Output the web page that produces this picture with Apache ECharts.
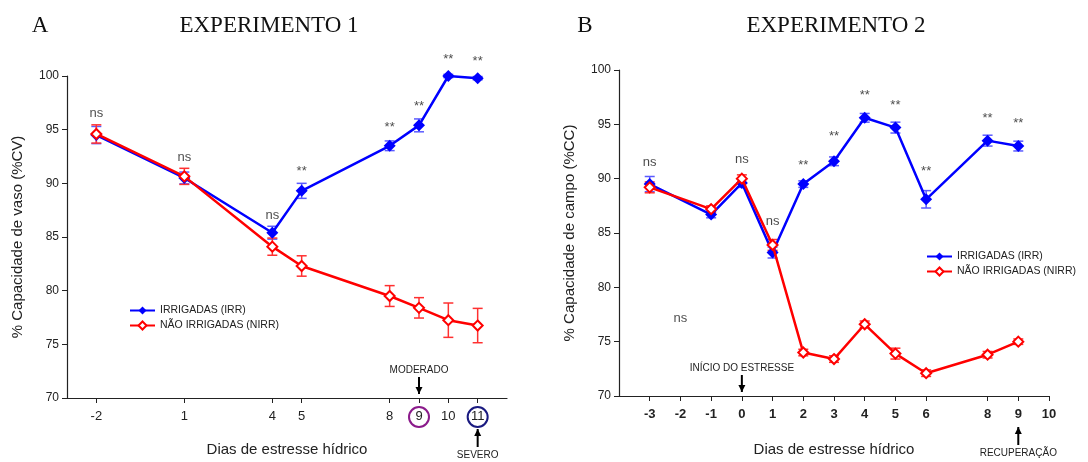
<!DOCTYPE html>
<html>
<head>
<meta charset="utf-8">
<script src="https://cdn.jsdelivr.net/npm/echarts@6/dist/echarts.min.js"></script>
<style>
html, body { margin: 0; padding: 0; background: #fff; }
#chart { width: 1088px; height: 462px; }
</style>
</head>
<body>
<div id="chart"></div>
<script>
// Experimento 1
var daysL = [-2, 1, 4, 5, 8, 9, 10, 11];
var irrL = [94.5, 90.5, 85.4, 89.3, 93.5, 95.4, 100.0, 99.8];
var irrErrL = [0.8, 0.55, 0.6, 0.7, 0.45, 0.6, 0.15, 0.15];
var nirrL = [94.6, 90.65, 84.1, 82.3, 79.5, 78.4, 77.25, 76.75];
var nirrErrL = [0.85, 0.75, 0.8, 0.95, 0.97, 0.95, 1.6, 1.6];
var sigL = ['ns', 'ns', 'ns', '**', '**', '**', '**', '**'];
var sigYL = [96.5, 92.45, 87.0, 91.1, 95.2, 97.2, 101.5, 101.35];
var tickDaysL = [-2, 1, 4, 5, 8, 9, 10, 11];
var markDaysL = [9, 11];
var markTextL = ['MODERADO', 'SEVERO'];

// Experimento 2
var daysR = [-3, -1, 0, 1, 2, 3, 4, 5, 6, 8, 9];
var irrR = [89.5, 86.7, 89.6, 83.2, 89.5, 91.6, 95.6, 94.7, 88.1, 93.5, 93.0];
var irrErrR = [0.7, 0.3, 0.4, 0.5, 0.3, 0.4, 0.4, 0.5, 0.8, 0.5, 0.45];
var nirrR = [89.2, 87.2, 90.0, 83.9, 74.0, 73.4, 76.6, 73.9, 72.1, 73.8, 75.0];
var nirrErrR = [0.5, 0.3, 0.35, 0.5, 0.3, 0.3, 0.3, 0.5, 0.3, 0.3, 0.25];
var sigDaysR = [-3, -2, 0, 1, 2, 3, 4, 5, 6, 8, 9];
var sigR = ['ns', 'ns', 'ns', 'ns', '**', '**', '**', '**', '**', '**', '**'];
var sigYR = [91.46, 77.14, 91.73, 86.08, 91.25, 93.9, 97.63, 96.7, 90.7, 95.53, 95.08];
var tickDaysR = [-3, -2, -1, 0, 1, 2, 3, 4, 5, 6, 8, 9, 10];
var markDaysR = [0, 9];
var markTextR = ['INÍCIO DO ESTRESSE', 'RECUPERAÇÃO'];

var sans = 'Liberation Sans, Arial, sans-serif';
var axisColor = '#222';

function pairs(xs, ys) {
	var out = [];
	for (var i = 0; i < xs.length; i++) {
		out.push([xs[i], ys[i]]);
	}
	return out;
}

function errData(xs, ys, es) {
	var out = [];
	for (var i = 0; i < xs.length; i++) {
		out.push([xs[i], ys[i] - es[i], ys[i] + es[i]]);
	}
	return out;
}

function errSeries(idx, data, color) {
	return {
		type: 'custom',
		xAxisIndex: idx,
		yAxisIndex: idx,
		data: data,
		silent: true,
		renderItem: function(params, api) {
			var lo = api.coord([api.value(0), api.value(1)]);
			var hi = api.coord([api.value(0), api.value(2)]);
			var w = 5;
			var st = { stroke: color, lineWidth: 1.5 };
			return {
				type: 'group',
				children: [
					{ type: 'line', shape: { x1: lo[0], y1: lo[1], x2: hi[0], y2: hi[1] }, style: st },
					{ type: 'line', shape: { x1: lo[0] - w, y1: lo[1], x2: lo[0] + w, y2: lo[1] }, style: st },
					{ type: 'line', shape: { x1: hi[0] - w, y1: hi[1], x2: hi[0] + w, y2: hi[1] }, style: st }
				]
			};
		}
	};
}

function lineSeries(idx, name, data, color, filled) {
	return {
		name: name,
		type: 'line',
		xAxisIndex: idx,
		yAxisIndex: idx,
		data: data,
		symbol: 'diamond',
		symbolSize: filled ? 12 : 10,
		showAllSymbol: true,
		lineStyle: { color: color, width: 2.5 },
		itemStyle: filled ? { color: color } : { color: '#fff', borderColor: color, borderWidth: 2 },
		emphasis: { disabled: true },
		z: filled ? 3 : 4
	};
}

function sigSeries(idx, xs, ys, texts) {
	return {
		type: 'scatter',
		xAxisIndex: idx,
		yAxisIndex: idx,
		data: pairs(xs, ys),
		symbolSize: 0,
		silent: true,
		clip: false,
		label: {
			show: true,
			position: 'inside',
			color: '#1a1a1a',
			fontFamily: sans,
			fontSize: 13,
			formatter: function(p) { return texts[p.dataIndex]; }
		}
	};
}

// arrows, circles and notes under/over the x axis
function markSeries(idx, days, texts, rings, up) {
	var data = [];
	for (var i = 0; i < days.length; i++) data.push([days[i], 70]);
	return {
		type: 'custom',
		xAxisIndex: idx,
		yAxisIndex: idx,
		data: data,
		silent: true,
		renderItem: function(params, api) {
			var i = params.dataIndex;
			var p = api.coord([api.value(0), api.value(1)]);
			var kids = [];
			var arrowUp = up[i];
			var y1, y2, ty;
			if (arrowUp) {
				y1 = p[1] + 31; y2 = p[1] + 49; ty = p[1] + 57;
			} else {
				y1 = p[1] - 21; y2 = p[1] - 4; ty = p[1] - 28;
			}
			var tipY = arrowUp ? y1 : y2;
			var dir = arrowUp ? 1 : -1;
			kids.push({ type: 'line', shape: { x1: p[0], y1: y1, x2: p[0], y2: y2 },
				style: { stroke: '#000', lineWidth: 2 } });
			kids.push({ type: 'polygon', shape: { points: [[p[0], tipY], [p[0] - 3.5, tipY + dir * 7], [p[0] + 3.5, tipY + dir * 7]] },
				style: { fill: '#000' } });
			kids.push({ type: 'text', x: p[0], y: ty,
				style: { text: texts[i], fill: '#222', font: '10px ' + sans, align: 'center', verticalAlign: 'middle' } });
			if (rings[i]) {
				kids.push({ type: 'circle', shape: { cx: p[0], cy: p[1] + 19, r: 10 },
					style: { fill: 'none', stroke: rings[i], lineWidth: 2 } });
			}
			return { type: 'group', children: kids };
		}
	};
}

function xAxis(idx, min, max, ticks, bold, gap) {
	return {
		type: 'value',
		gridIndex: idx,
		min: min,
		max: max,
		interval: 1,
		name: 'Dias de estresse hídrico',
		nameLocation: 'middle',
		nameGap: gap,
		nameTextStyle: { color: '#222', fontFamily: sans, fontSize: 15 },
		axisLine: { onZero: false, lineStyle: { color: axisColor, width: 1.2 } },
		axisTick: { show: true, length: 5, customValues: ticks, lineStyle: { color: axisColor } },
		axisLabel: { customValues: ticks, color: '#222', fontFamily: sans, fontSize: 13,
			fontWeight: bold ? 'bold' : 'normal', margin: 12 },
		splitLine: { show: false }
	};
}

function yAxis(idx, name) {
	return {
		type: 'value',
		gridIndex: idx,
		min: 70,
		max: 100,
		interval: 5,
		name: name,
		nameLocation: 'middle',
		nameGap: 42,
		nameTextStyle: { color: '#222', fontFamily: sans, fontSize: 15 },
		axisLine: { show: true, onZero: false, lineStyle: { color: axisColor, width: 1.2 } },
		axisTick: { show: true, length: 5, lineStyle: { color: axisColor } },
		axisLabel: { color: '#222', fontFamily: sans, fontSize: 12, margin: 8 },
		splitLine: { show: false }
	};
}

var IRR = 'IRRIGADAS (IRR)';
var NIRR = 'NÃO IRRIGADAS (NIRR)';

var legendBase = {
	orient: 'vertical',
	itemWidth: 25,
	itemHeight: 10,
	itemGap: 4,
	selectedMode: false,
	textStyle: { color: '#222', fontFamily: sans, fontSize: 10.5 },
	data: [IRR, NIRR]
};

var titleFont = '23px Liberation Serif, serif';

var option = {
	animation: false,
	backgroundColor: '#fff',
	grid: [
		{ left: 67, top: 76, width: 440, height: 326 },
		{ left: 619, top: 70, width: 430, height: 329 }
	],
	xAxis: [
		xAxis(0, -3, 12, tickDaysL, false, 44),
		xAxis(1, -4, 10, tickDaysR, true, 46)
	],
	yAxis: [
		yAxis(0, '% Capacidade de vaso (%CV)'),
		yAxis(1, '% Capacidade de campo (%CC)')
	],
	legend: [
		Object.assign({}, legendBase, { left: 124, top: 300 }),
		Object.assign({}, legendBase, { left: 921, top: 246 })
	],
	graphic: [
		{ type: 'text', x: 40, y: 26, style: { text: 'A', font: titleFont, fill: '#111', align: 'center', verticalAlign: 'middle' } },
		{ type: 'text', x: 269, y: 26, style: { text: 'EXPERIMENTO 1', font: titleFont, fill: '#111', align: 'center', verticalAlign: 'middle' } },
		{ type: 'text', x: 585, y: 26, style: { text: 'B', font: titleFont, fill: '#111', align: 'center', verticalAlign: 'middle' } },
		{ type: 'text', x: 836, y: 26, style: { text: 'EXPERIMENTO 2', font: titleFont, fill: '#111', align: 'center', verticalAlign: 'middle' } }
	],
	series: [
		errSeries(0, errData(daysL, irrL, irrErrL), '#5b5bff'),
		lineSeries(0, IRR, pairs(daysL, irrL), '#0000ff', true),
		errSeries(0, errData(daysL, nirrL, nirrErrL), '#ff3030'),
		lineSeries(0, NIRR, pairs(daysL, nirrL), '#ff0000', false),
		sigSeries(0, daysL, sigYL, sigL),
		markSeries(0, markDaysL, markTextL, ['#8b1a8b', '#1a1a80'], [false, true]),

		errSeries(1, errData(daysR, irrR, irrErrR), '#5b5bff'),
		lineSeries(1, IRR, pairs(daysR, irrR), '#0000ff', true),
		errSeries(1, errData(daysR, nirrR, nirrErrR), '#ff3030'),
		lineSeries(1, NIRR, pairs(daysR, nirrR), '#ff0000', false),
		sigSeries(1, sigDaysR, sigYR, sigR),
		markSeries(1, markDaysR, markTextR, [null, null], [false, true])
	]
};

var myChart = echarts.init(document.getElementById('chart'));
myChart.setOption(option);
</script>
</body>
</html>
